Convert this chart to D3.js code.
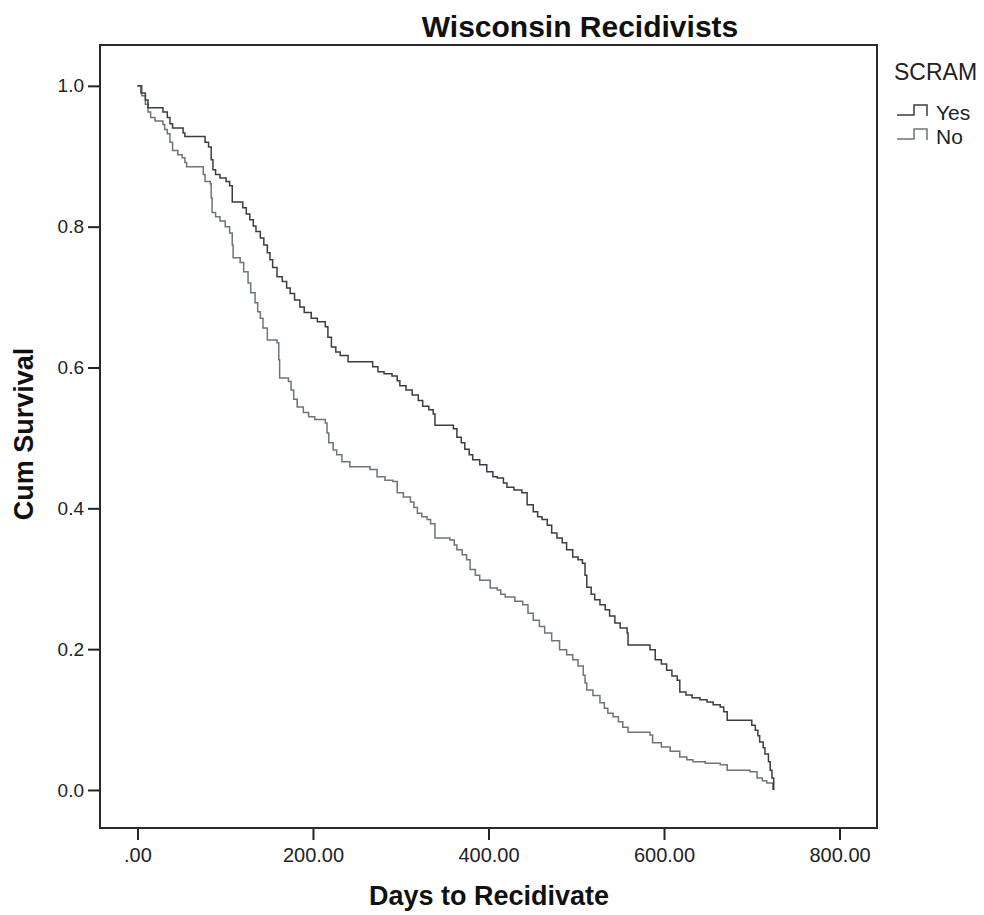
<!DOCTYPE html>
<html>
<head>
<meta charset="utf-8">
<script src="https://cdn.jsdelivr.net/npm/d3@7"></script>
<style>
  html, body { margin: 0; padding: 0; background: #fff; }
  svg { display: block; font-family: "Liberation Sans", Arial, sans-serif; }
</style>
</head>
<body>
<div id="chart"></div>
<script>
// Kaplan-Meier steps: day of event, survival after it
const yesDays = [0,4,9,12,29,34,37,40,52,54,77,81,84,86,89,94,101,105,108,120,124,128,132,135,140,144,148,151,154,159,165,170,174,179,185,190,198,205,214,217,221,226,231,240,268,274,281,290,296,299,306,313,320,325,332,337,339,360,364,369,373,378,382,390,398,405,410,417,421,429,438,444,451,456,461,467,472,478,484,489,496,502,507,510,512,517,521,527,533,538,544,550,558,559,584,590,597,603,609,615,618,625,632,641,649,656,664,668,672,700,704,707,709,713,715,719,721,723,725];
const yesSurv = [1.000,0.990,0.980,0.969,0.963,0.955,0.946,0.940,0.933,0.928,0.920,0.913,0.895,0.881,0.874,0.869,0.864,0.858,0.835,0.827,0.818,0.810,0.801,0.793,0.784,0.774,0.763,0.753,0.742,0.729,0.722,0.713,0.705,0.696,0.686,0.678,0.670,0.665,0.658,0.643,0.629,0.622,0.617,0.608,0.601,0.594,0.591,0.588,0.581,0.574,0.568,0.561,0.553,0.545,0.540,0.534,0.518,0.513,0.501,0.493,0.484,0.476,0.469,0.462,0.452,0.445,0.443,0.436,0.430,0.426,0.422,0.405,0.395,0.388,0.384,0.376,0.365,0.358,0.351,0.341,0.331,0.327,0.322,0.305,0.288,0.278,0.270,0.263,0.256,0.247,0.237,0.230,0.223,0.206,0.199,0.185,0.179,0.170,0.162,0.156,0.139,0.135,0.131,0.128,0.125,0.121,0.118,0.111,0.099,0.092,0.085,0.077,0.068,0.060,0.051,0.040,0.028,0.017,0.000];

const noDays = [0,5,9,12,15,20,29,31,34,37,40,46,51,54,56,75,77,83,84,85,89,94,100,105,108,109,117,121,126,129,134,137,140,143,148,159,161,162,172,175,178,182,189,195,202,214,216,218,223,227,233,242,265,273,282,291,296,303,311,315,319,324,330,334,339,356,361,364,370,375,379,385,390,402,410,414,419,430,439,445,451,458,464,472,481,489,496,502,508,510,512,519,527,532,536,542,548,553,559,584,587,597,607,618,626,633,647,664,672,698,706,712,717,724];
const noSurv = [1.000,0.986,0.974,0.963,0.955,0.950,0.945,0.938,0.932,0.920,0.908,0.902,0.898,0.891,0.885,0.874,0.864,0.861,0.841,0.820,0.814,0.808,0.800,0.791,0.774,0.756,0.749,0.736,0.720,0.706,0.692,0.679,0.670,0.656,0.639,0.635,0.611,0.585,0.580,0.568,0.555,0.544,0.536,0.530,0.526,0.521,0.507,0.493,0.483,0.476,0.466,0.459,0.455,0.445,0.440,0.438,0.422,0.416,0.409,0.401,0.393,0.388,0.384,0.378,0.358,0.355,0.348,0.341,0.334,0.327,0.313,0.305,0.298,0.287,0.284,0.278,0.274,0.268,0.263,0.251,0.241,0.232,0.223,0.212,0.199,0.192,0.185,0.176,0.163,0.152,0.142,0.134,0.124,0.116,0.109,0.104,0.097,0.089,0.082,0.078,0.067,0.061,0.055,0.047,0.043,0.040,0.038,0.036,0.028,0.026,0.017,0.013,0.010,0.000];

const groups = ["Yes", "No"];
const xTicks = [0, 200, 400, 600, 800];
const yTicks = [0, 0.2, 0.4, 0.6, 0.8, 1.0];

const series = [
  { name: groups[0], color: "#3a3d46", pts: yesDays.map((d, i) => [d, yesSurv[i]]) },
  { name: groups[1], color: "#6a786e", pts: noDays.map((d, i) => [d, noSurv[i]]) }
];

const width = 984, height = 915;
const frame = { left: 100, top: 45, right: 877, bottom: 828 };

const svg = d3.select("#chart")
  .append("svg")
  .attr("width", width)
  .attr("height", height);

const x = d3.scaleLinear()
  .domain([-42.7, 842.7])
  .range([frame.left, frame.right]);

const y = d3.scaleLinear()
  .domain([-0.054, 1.058])
  .range([frame.bottom, frame.top]);

// curves
const line = d3.line()
  .x(d => x(d[0]))
  .y(d => y(d[1]))
  .curve(d3.curveStepAfter);

svg.append("g")
  .selectAll("path")
  .data(series.slice().reverse())
  .join("path")
  .attr("fill", "none")
  .attr("stroke", d => d.color)
  .attr("stroke-width", 1.5)
  .attr("d", d => line(d.pts));

// axes
const xAxis = d3.axisBottom(x)
  .tickValues(xTicks)
  .tickSize(12)
  .tickPadding(8)
  .tickFormat(d => d === 0 ? ".00" : d.toFixed(2));

const yAxis = d3.axisLeft(y)
  .tickValues(yTicks)
  .tickSize(12)
  .tickPadding(4)
  .tickFormat(d3.format(".1f"));

const gx = svg.append("g")
  .attr("transform", `translate(0,${frame.bottom})`)
  .call(xAxis);

const gy = svg.append("g")
  .attr("transform", `translate(${frame.left},0)`)
  .call(yAxis);

[gx, gy].forEach(g => {
  g.select(".domain").remove();
  g.selectAll(".tick line").attr("stroke", "#222").attr("stroke-width", 2);
  g.selectAll(".tick text")
    .attr("fill", "#222")
    .style("font-size", "20px")
    .style("font-family", "'Liberation Sans', Arial, sans-serif");
});
gy.selectAll(".tick text").style("font-size", "19px");

svg.append("rect")
  .attr("x", frame.left)
  .attr("y", frame.top)
  .attr("width", frame.right - frame.left)
  .attr("height", frame.bottom - frame.top)
  .attr("fill", "none")
  .attr("stroke", "#2a2a2a")
  .attr("stroke-width", 2);

// titles
svg.append("text")
  .attr("x", 580)
  .attr("y", 37)
  .attr("text-anchor", "middle")
  .style("font-size", "30px")
  .style("font-weight", "bold")
  .attr("fill", "#111")
  .text("Wisconsin Recidivists");

svg.append("text")
  .attr("x", 489)
  .attr("y", 905)
  .attr("text-anchor", "middle")
  .style("font-size", "27px")
  .style("font-weight", "bold")
  .attr("fill", "#111")
  .text("Days to Recidivate");

svg.append("text")
  .attr("transform", "translate(33,434) rotate(-90)")
  .attr("text-anchor", "middle")
  .style("font-size", "27px")
  .style("font-weight", "bold")
  .attr("fill", "#111")
  .text("Cum Survival");

// legend
const legend = svg.append("g");

legend.append("text")
  .attr("x", 894)
  .attr("y", 80)
  .style("font-size", "23px")
  .attr("fill", "#222")
  .text("SCRAM");

const item = legend.selectAll("g.item")
  .data(series)
  .join("g")
  .attr("class", "item")
  .attr("transform", (d, i) => `translate(0,${120 + i * 24})`);

item.append("path")
  .attr("fill", "none")
  .attr("stroke", d => d.color)
  .attr("stroke-width", 1.5)
  .attr("d", "M897,-5H914V-15H927V-4");

item.append("text")
  .attr("x", 936)
  .attr("y", 0)
  .style("font-size", "21px")
  .attr("fill", "#222")
  .text(d => d.name);
</script>
</body>
</html>
